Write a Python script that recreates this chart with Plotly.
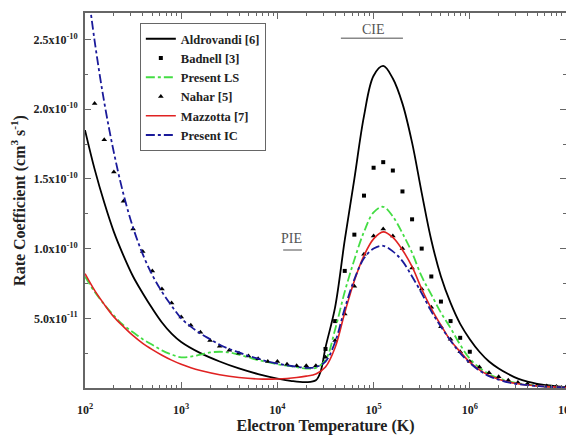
import numpy as np
import plotly.graph_objects as go

# ---- data (log10 T, rate coefficient in units of 1e-10 cm^3 s^-1) ----
aldro_logT = [2.0, 2.1, 2.2, 2.3, 2.4, 2.5, 2.6, 2.7, 2.8, 2.9, 3.0, 3.2, 3.4, 3.6, 3.8, 4.0, 4.15, 4.3,
              4.4, 4.45, 4.5, 4.6, 4.7, 4.8, 4.9, 5.0, 5.1, 5.2, 5.3, 5.4, 5.5, 5.6, 5.7, 5.8, 5.9, 6.0,
              6.1, 6.2, 6.3, 6.4, 6.5, 6.6, 6.7, 6.8, 6.9, 7.0]
aldro_val = [1.85, 1.57, 1.33, 1.12, 0.95, 0.80, 0.68, 0.57, 0.47, 0.39, 0.33, 0.25, 0.19, 0.14, 0.10,
             0.068, 0.05, 0.042, 0.055, 0.12, 0.29, 0.58, 1.06, 1.50, 1.95, 2.24, 2.31, 2.22, 2.04, 1.76,
             1.40, 1.06, 0.80, 0.61, 0.46, 0.35, 0.26, 0.19, 0.14, 0.10, 0.067, 0.045, 0.03, 0.02,
             0.012, 0.006]

badnell_logT = [4.5, 4.6, 4.7, 4.8, 4.9, 5.0, 5.1, 5.2, 5.3, 5.4, 5.5, 5.6, 5.7, 5.8, 5.9, 6.0]
badnell_val = [0.28, 0.48, 0.84, 1.10, 1.38, 1.58, 1.62, 1.56, 1.41, 1.21, 1.00, 0.80, 0.62, 0.48, 0.36, 0.26]

ls_logT = [2.0, 2.1, 2.2, 2.3, 2.4, 2.5, 2.6, 2.7, 2.8, 2.9, 3.0, 3.1, 3.2, 3.3, 3.4, 3.5, 3.6, 3.7,
           3.8, 3.9, 4.0, 4.1, 4.2, 4.3, 4.4, 4.5, 4.6, 4.7, 4.8, 4.9, 5.0, 5.1, 5.2, 5.3, 5.4, 5.5,
           5.6, 5.7, 5.8, 5.9, 6.0, 6.1, 6.2, 6.3, 6.4, 6.5, 6.6, 6.7, 6.8, 6.9, 7.0]
ls_val = [0.80, 0.69, 0.60, 0.52, 0.45, 0.40, 0.35, 0.31, 0.27, 0.24, 0.22, 0.225, 0.24, 0.255, 0.26,
          0.255, 0.24, 0.22, 0.20, 0.185, 0.17, 0.16, 0.15, 0.14, 0.145, 0.20, 0.42, 0.69, 0.92, 1.12,
          1.26, 1.30, 1.23, 1.11, 0.97, 0.80, 0.67, 0.54, 0.43, 0.31, 0.21, 0.145, 0.10, 0.07, 0.05,
          0.035, 0.025, 0.017, 0.011, 0.007, 0.004]

nahar_logT = [2.1, 2.2, 2.3, 2.4, 2.5, 2.6, 2.7, 2.8, 2.9, 3.0, 3.1, 3.2, 3.3, 3.4, 3.5, 3.6, 3.7, 3.8,
              3.9, 4.0, 4.1, 4.2, 4.3, 4.4, 4.5, 4.6, 4.7, 4.8, 4.9, 5.0, 5.1, 5.2, 5.3, 5.4, 5.5, 5.6,
              5.7, 5.8, 5.9, 6.0, 6.1, 6.2, 6.3, 6.4, 6.5, 6.6, 6.7, 6.8, 6.9, 7.0]
nahar_val = [2.04, 1.78, 1.55, 1.34, 1.14, 0.98, 0.84, 0.71, 0.61, 0.51, 0.45, 0.40, 0.34, 0.30, 0.27,
             0.25, 0.23, 0.21, 0.19, 0.19, 0.17, 0.16, 0.16, 0.16, 0.22, 0.34, 0.53, 0.73, 0.96, 1.09,
             1.14, 1.09, 1.00, 0.86, 0.71, 0.58, 0.44, 0.35, 0.26, 0.19, 0.15, 0.11, 0.08, 0.055, 0.04,
             0.03, 0.02, 0.014, 0.01, 0.007]

mazz_logT = [2.0, 2.1, 2.2, 2.3, 2.4, 2.5, 2.6, 2.7, 2.8, 2.9, 3.0, 3.1, 3.2, 3.4, 3.6, 3.8, 4.0, 4.2,
             4.3, 4.4, 4.5, 4.6, 4.7, 4.8, 4.9, 5.0, 5.1, 5.2, 5.3, 5.4, 5.5, 5.6, 5.7, 5.8, 5.9, 6.0,
             6.1, 6.2, 6.3, 6.4, 6.5, 6.6, 6.7, 6.8, 6.9, 7.0]
mazz_val = [0.82, 0.70, 0.60, 0.51, 0.44, 0.375, 0.32, 0.275, 0.235, 0.20, 0.17, 0.145, 0.125, 0.095,
            0.075, 0.065, 0.065, 0.075, 0.085, 0.10, 0.15, 0.29, 0.54, 0.77, 0.95, 1.07, 1.12, 1.08,
            0.99, 0.87, 0.71, 0.57, 0.45, 0.34, 0.26, 0.185, 0.13, 0.09, 0.063, 0.043, 0.03, 0.021,
            0.015, 0.01, 0.007, 0.004]

ic_logT = [2.0, 2.1, 2.2, 2.3, 2.4, 2.5, 2.6, 2.7, 2.8, 2.9, 3.0, 3.1, 3.2, 3.3, 3.4, 3.5, 3.6, 3.7,
           3.8, 3.9, 4.0, 4.1, 4.2, 4.3, 4.4, 4.5, 4.6, 4.7, 4.8, 4.9, 5.0, 5.1, 5.2, 5.3, 5.4, 5.5,
           5.6, 5.7, 5.8, 5.9, 6.0, 6.1, 6.2, 6.3, 6.4, 6.5, 6.6, 6.7, 6.8, 6.9, 7.0]
ic_val = [3.02, 2.49, 2.05, 1.69, 1.39, 1.15, 0.96, 0.81, 0.69, 0.59, 0.50, 0.44, 0.39, 0.35, 0.31,
          0.28, 0.255, 0.23, 0.21, 0.19, 0.175, 0.163, 0.152, 0.145, 0.15, 0.19, 0.33, 0.57, 0.78, 0.93,
          1.00, 1.02, 0.98, 0.91, 0.80, 0.68, 0.55, 0.44, 0.34, 0.25, 0.18, 0.125, 0.085, 0.06, 0.04,
          0.028, 0.02, 0.014, 0.009, 0.006, 0.004]

SCALE = 1e-10
x_tick_vals = [1e2, 1e3, 1e4, 1e5, 1e6, 1e7]
x_tick_text = ["10<sup>2</sup>", "10<sup>3</sup>", "10<sup>4</sup>", "10<sup>5</sup>", "10<sup>6</sup>", "10<sup>7</sup>"]
y_tick_vals = [0.5e-10, 1.0e-10, 1.5e-10, 2.0e-10, 2.5e-10]
y_tick_text = ["5.0x10<sup>-11</sup>", "1.0x10<sup>-10</sup>", "1.5x10<sup>-10</sup>",
               "2.0x10<sup>-10</sup>", "2.5x10<sup>-10</sup>"]

FONT = "Liberation Serif, Times New Roman, serif"


def T(logs):
    return np.power(10.0, np.array(logs))


def V(vals):
    return np.array(vals) * SCALE


fig = go.Figure()
fig.add_trace(go.Scatter(x=T(aldro_logT), y=V(aldro_val), mode="lines", name="<b>Aldrovandi [6]</b>",
                         line=dict(color="black", width=1.8, shape="spline")))
fig.add_trace(go.Scatter(x=T(badnell_logT), y=V(badnell_val), mode="markers", name="<b>Badnell [3]</b>",
                         marker=dict(symbol="square", size=4, color="black")))
fig.add_trace(go.Scatter(x=T(ls_logT), y=V(ls_val), mode="lines", name="<b>Present LS</b>",
                         line=dict(color="#44dd44", width=1.8, dash="dashdot", shape="spline")))
fig.add_trace(go.Scatter(x=T(nahar_logT), y=V(nahar_val), mode="markers", name="<b>Nahar [5]</b>",
                         marker=dict(symbol="triangle-up", size=5, color="black")))
fig.add_trace(go.Scatter(x=T(mazz_logT), y=V(mazz_val), mode="lines", name="<b>Mazzotta [7]</b>",
                         line=dict(color="#e02222", width=1.6, shape="spline")))
fig.add_trace(go.Scatter(x=T(ic_logT), y=V(ic_val), mode="lines", name="<b>Present IC</b>",
                         line=dict(color="#1a1a9a", width=1.8, dash="dashdot", shape="spline")))

x_minor = [m * 10 ** k for k in range(2, 7) for m in range(2, 10)]

axis_common = dict(showline=True, linecolor="#666666", linewidth=2, mirror="ticks", ticks="inside",
                   tickcolor="#666666", tickwidth=1.2, ticklen=6, showgrid=False, zeroline=False,
                   automargin=False, ticklabeloverflow="allow",
                   tickfont=dict(family=FONT, size=12, color="#222222"))

fig.update_xaxes(type="log", range=[2, 7], tickvals=x_tick_vals,
                 ticktext=["<b>" + t + "</b>" for t in x_tick_text], ticklabelstandoff=10,
                 minor=dict(tickvals=x_minor, ticks="inside", ticklen=3, tickcolor="#666666"),
                 title=dict(text="<b>Electron Temperature (K)</b>", font=dict(family=FONT, size=16, color="#222222"),
                            standoff=0),
                 **axis_common)
fig.update_yaxes(range=[0, 2.69e-10], tickvals=y_tick_vals, ticktext=["<b>" + t + "</b>" for t in y_tick_text],
                 ticklabelstandoff=3,
                 minor=dict(tick0=0, dtick=0.25e-10, ticks="inside", ticklen=3, tickcolor="#666666"),
                 title=dict(text="<b>Rate Coefficient (cm<sup>3</sup> s<sup>-1</sup>)</b>",
                            font=dict(family=FONT, size=16, color="#222222"), standoff=4),
                 **axis_common)

# the page body adds an 8px offset, so the figure is sized/margined to compensate
fig.update_layout(
    width=566, height=429,
    margin=dict(l=77, r=8, t=5, b=49),
    plot_bgcolor="white", paper_bgcolor="white",
    font=dict(family=FONT, color="#222222"),
    legend=dict(x=0.114, y=0.973, xanchor="left", yanchor="top", bgcolor="white",
                bordercolor="#666666", borderwidth=1, tracegroupgap=0, itemwidth=30,
                font=dict(family=FONT, size=12.5, color="#222222")),
    annotations=[
        dict(text="CIE", xref="paper", yref="paper", x=0.599, y=0.981, showarrow=False,
             font=dict(family=FONT, size=14, color="#555555")),
        dict(text="PIE", xref="paper", yref="paper", x=0.430, y=0.40, showarrow=False,
             font=dict(family=FONT, size=14, color="#555555")),
    ],
    shapes=[
        dict(type="line", xref="paper", yref="paper", x0=0.532, x1=0.661, y0=0.933, y1=0.933,
             line=dict(color="#888888", width=1.5)),
        dict(type="line", xref="paper", yref="paper", x0=0.412, x1=0.451, y0=0.368, y1=0.368,
             line=dict(color="#888888", width=1.5)),
    ],
)

fig.write_html("out.html")
